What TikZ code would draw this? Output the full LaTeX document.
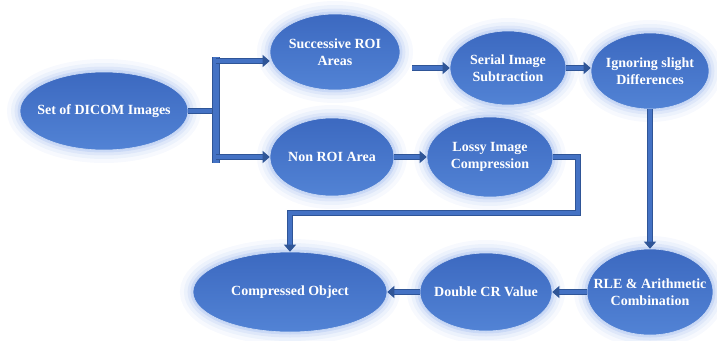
\documentclass[tikz,border=0pt]{standalone}
\usepackage{fontspec}
\setmainfont{Liberation Serif}
\usetikzlibrary{shapes.geometric,arrows.meta,positioning,calc}
\definecolor{ctop}{HTML}{3C69C0}
\definecolor{cbot}{HTML}{5283D5}
\definecolor{cglow}{HTML}{8EAEEB}
\definecolor{cbar}{HTML}{4472C4}
\definecolor{cedge}{HTML}{2F5597}

\begin{document}
\begin{tikzpicture}[x=1pt, y=-1pt,
    on grid,
    bubble/.style={ellipse, inner sep=0pt, top color=ctop, bottom color=cbot, draw=white!55!cglow, line width=0.6pt,
        preaction={draw=cglow, line width=26pt, draw opacity=0.07},
        preaction={draw=cglow, line width=18pt, draw opacity=0.10},
        preaction={draw=cglow, line width=11pt, draw opacity=0.15},
        preaction={draw=cglow, line width=5pt, draw opacity=0.25}},
    lbl/.style={text=white, font=\bfseries\fontsize{14}{16.5}\selectfont, align=center},
    link/.style={draw=cedge, line width=0.8pt, double=cbar, double distance=4.6pt},
    conn/.style={link, -{Triangle[length=7pt, width=12pt]}}
]
\useasboundingbox (0,0) rectangle (717,340);

% input
\node[bubble, minimum width=168pt, minimum height=78pt, label={[lbl]center:Set of DICOM Images}] (dicom) at (104,111) {};

% ROI branch
\node[bubble, minimum width=130pt, minimum height=76pt, above right=59pt and 231pt of dicom,
    label={[lbl]center:{Successive ROI\\Areas}}] (succ) {};
\node[bubble, minimum width=116pt, minimum height=74pt, below right=16pt and 173pt of succ,
    label={[lbl]center:{Serial Image\\Subtraction}}] (serial) {};
\node[bubble, minimum width=118pt, minimum height=76pt, below right=3pt and 142pt of serial,
    label={[lbl]center:{Ignoring slight\\Differences}}] (ignore) {};

% non ROI branch
\node[bubble, minimum width=124pt, minimum height=78pt, below right=46pt and 228pt of dicom,
    label={[lbl]center:Non ROI Area}] (nonroi) {};
\node[bubble, minimum width=126pt, minimum height=80pt, right=158pt of nonroi,
    label={[lbl]center:{Lossy Image\\Compression}}] (lossy) {};

% bottom row
\node[bubble, minimum width=126pt, minimum height=86pt, below=221pt of ignore,
    label={[lbl]center:{RLE \& Arithmetic\\Combination}}] (rle) {};
\node[bubble, minimum width=132pt, minimum height=78pt, left=164pt of rle,
    label={[lbl]center:Double CR Value}] (dcr) {};
\node[bubble, minimum width=194pt, minimum height=80pt, left=196pt of dcr,
    label={[lbl]center:Compressed Object}] (comp) {};

% fork
\coordinate (forktop) at (216,57);
\coordinate (forkbot) at (216,163);
\coordinate (fsucc) at (216,61);
\coordinate (fnon) at (216,157);
\coordinate (bend) at (578,213);

% Arrows
\draw[link] (dicom.east) -- (dicom.east -| forktop);
\draw[link, double distance=6.4pt] (forktop) -- (forkbot);
\draw[conn] (fsucc) -- (fsucc -| succ.west);
\draw[conn] (fnon) -- (fnon -| nonroi.west);
\draw[conn] ($(succ.east |- serial.west)+(12,0)$) -- (serial.west);
\draw[conn] (serial.east) -- (serial.east -| ignore.west);
\draw[conn] (nonroi.east) -- (nonroi.east -| lossy.west);
\draw[conn] (lossy.east) -| (bend) -| (comp.north);
\draw[conn] (ignore.south) -- (rle.north);
\draw[conn] (rle.west) -- (dcr.east);
\draw[conn] (dcr.west) -- (comp.east);

\end{tikzpicture}
\end{document}
